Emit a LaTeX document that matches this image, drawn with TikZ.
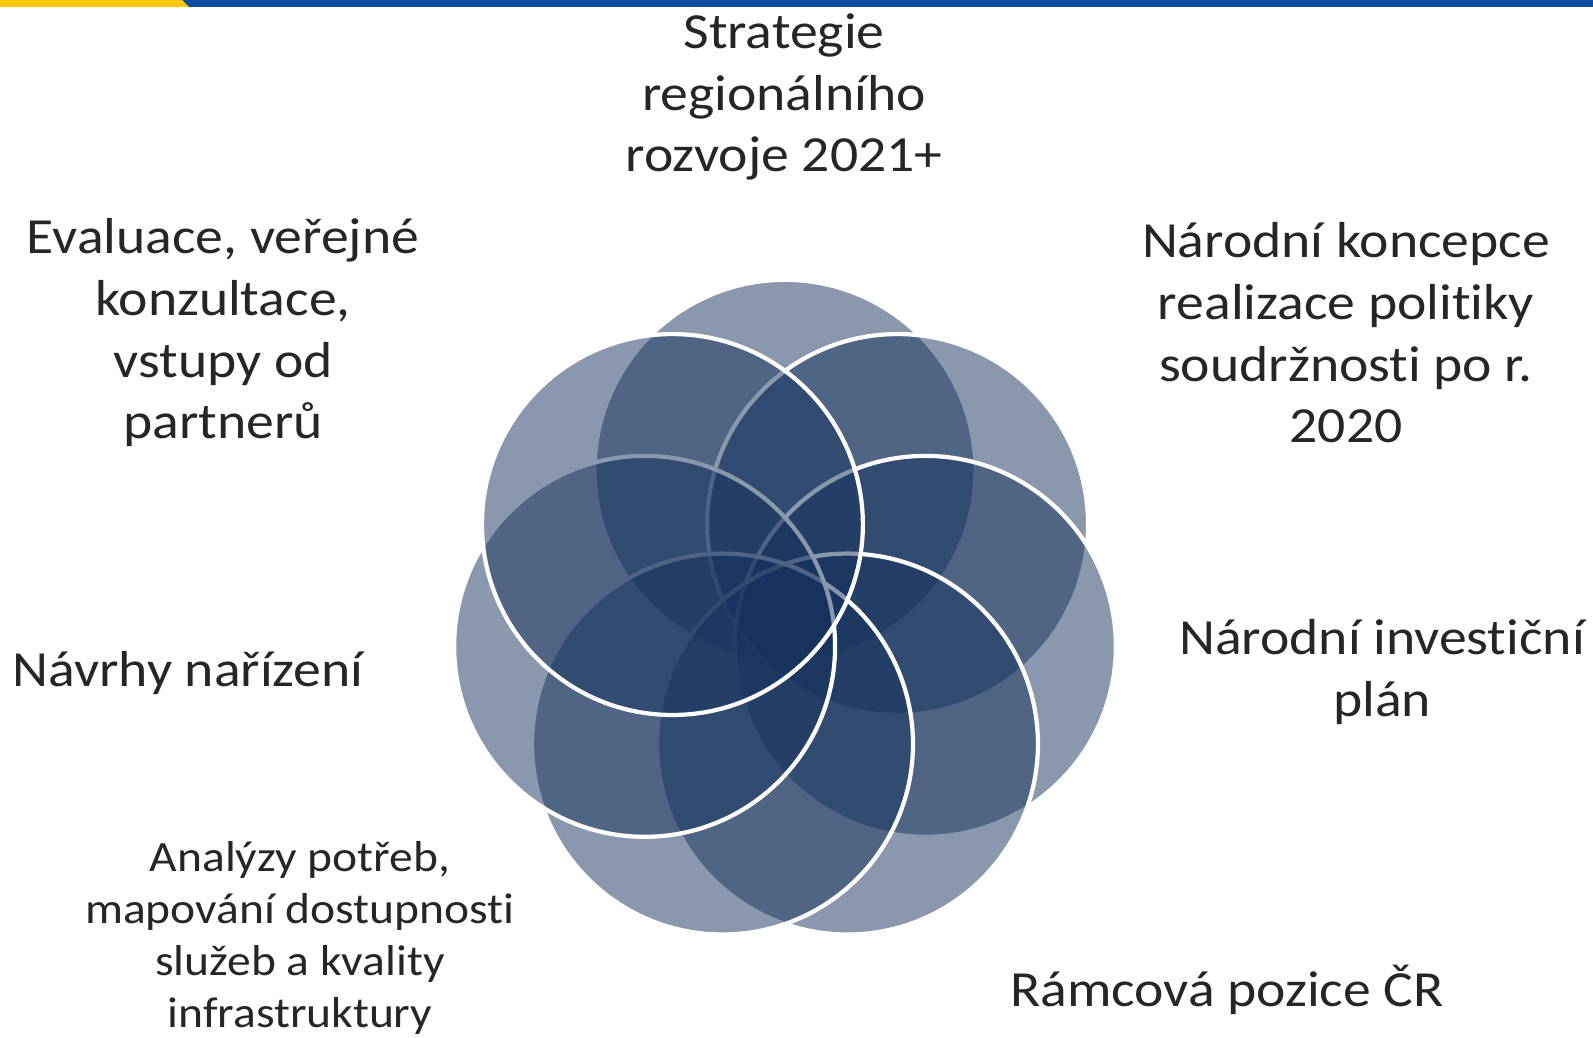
\documentclass[tikz,border=0pt]{standalone}
\usepackage{fontspec}
\setmainfont{Carlito}[FakeStretch=1.1,Ligatures=NoCommon]
\definecolor{petalblue}{RGB}{22,50,92}
\definecolor{txt}{RGB}{38,38,38}
\definecolor{baryellow}{RGB}{255,200,0}
\definecolor{barblue}{RGB}{11,77,162}
\begin{document}
\begin{tikzpicture}[x=0.02cm,y=-0.02cm,
  petal/.style={circle,minimum size=7.62cm,inner sep=0pt,fill=petalblue,fill opacity=0.5,draw=white,line width=2.4pt},
  bigtxt/.style={align=center,text=txt,font=\fontsize{28.8pt}{35.1pt}\selectfont,inner sep=0pt},
  smalltxt/.style={align=center,text=txt,font=\fontsize{24.6pt}{29.5pt}\selectfont,inner sep=0pt}]
\useasboundingbox (0,0) rectangle (1593,1038);
\fill[barblue] (0,0) rectangle (1593,7);
\fill[baryellow] (0,0) -- (182,0) -- (189,7) -- (0,7) -- cycle;
\foreach \i in {0,...,6} {
  \pgfmathsetmacro\a{90-\i*360/7}
  \node[petal] (c\i) at ({785+144*cos(\a)},{614.3-144*sin(\a)}) {};
}
\node[bigtxt] (t1) at (784,97) {Strategie\\regionálního\\rozvoje 2021+};
\node[bigtxt] (t2) at (1346,333) {Národní koncepce\\realizace politiky\\soudržnosti po r.\\2020};
\node[bigtxt] (t3) at (1382,672) {Národní investiční\\plán};
\node[bigtxt] (t4) at (1227,990) {Rámcová pozice ČR};
\node[smalltxt] (t5) at (300,938) {Analýzy potřeb,\\mapování dostupnosti\\služeb a kvality\\infrastruktury};
\node[bigtxt] (t6) at (188,673) {Návrhy nařízení};
\node[bigtxt] (t7) at (223,333) {Evaluace, veřejné\\konzultace,\\vstupy od\\partnerů};
\end{tikzpicture}
\end{document}
